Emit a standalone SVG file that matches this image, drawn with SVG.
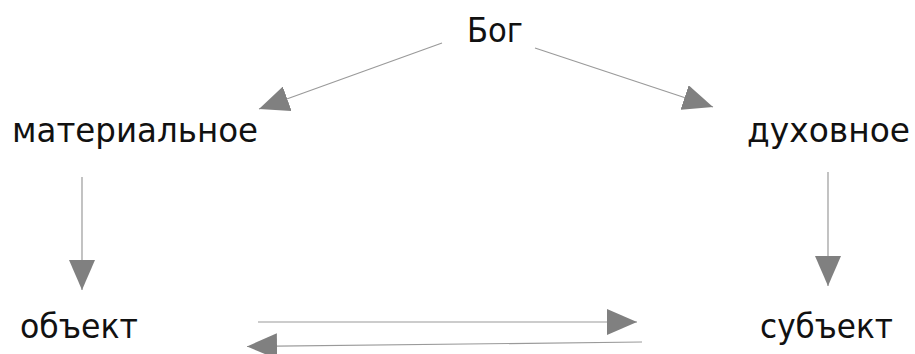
<svg xmlns="http://www.w3.org/2000/svg" width="915" height="354" viewBox="0 0 915 354">
  <style>
    .lbl { font-family: "DejaVu Sans", "Noto Sans", sans-serif; font-size: 33px; fill: #111111; }
    .edge { stroke: #9a9a9a; stroke-width: 1.2; fill: none; marker-end: url(#arrow); }
  </style>
  <defs>
    <marker id="arrow" viewBox="0 0 30 26" markerWidth="30" markerHeight="26" refX="30" refY="13" markerUnits="userSpaceOnUse" orient="auto">
      <path d="M0,0 L30,13 L0,26 Z" fill="#808080"/>
    </marker>
  </defs>
  <rect width="915" height="354" fill="#ffffff"/>
  <g id="connectors">
    <line class="edge" x1="442" y1="43" x2="259" y2="109"/>
    <line class="edge" x1="535" y1="48" x2="713" y2="107"/>
    <line class="edge" x1="82" y1="177" x2="82" y2="290"/>
    <line class="edge" x1="828" y1="172" x2="828" y2="286"/>
    <line class="edge" x1="258" y1="322" x2="637" y2="322"/>
    <line class="edge" x1="642" y1="342" x2="247" y2="346.5"/>
  </g>
  <g id="node-bog">
    <text class="lbl" x="467" y="42" textLength="56" lengthAdjust="spacingAndGlyphs">Бог</text>
  </g>
  <g id="node-material">
    <text class="lbl" x="12" y="142" textLength="246" lengthAdjust="spacingAndGlyphs">материальное</text>
  </g>
  <g id="node-spiritual">
    <text class="lbl" x="747" y="142" textLength="163" lengthAdjust="spacingAndGlyphs">духовное</text>
  </g>
  <g id="node-object">
    <text class="lbl" x="20" y="338" textLength="118" lengthAdjust="spacingAndGlyphs">объект</text>
  </g>
  <g id="node-subject">
    <text class="lbl" x="760" y="338" textLength="133" lengthAdjust="spacingAndGlyphs">субъект</text>
  </g>
</svg>
